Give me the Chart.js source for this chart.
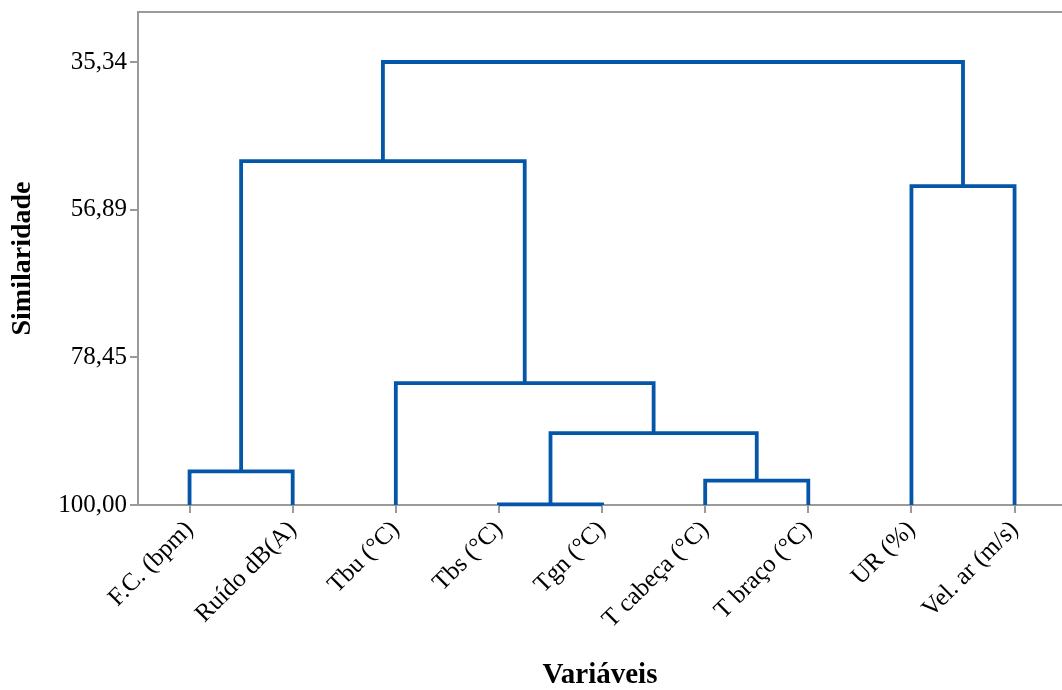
<!DOCTYPE html>
<html><head><meta charset="utf-8">
<script src="https://cdn.jsdelivr.net/npm/chart.js@4/dist/chart.umd.min.js"></script>
<style>html,body{margin:0;padding:0;background:#fff;overflow:hidden}#wrap{width:1062px;height:690px;position:relative}</style>
</head><body><div id="wrap"><canvas id="c"></canvas></div>
<script>
// Leaves (variables) in dendrogram order
const categories = ["F.C. (bpm)", "Ruído dB(A)", "Tbu (°C)", "Tbs (°C)", "Tgn (°C)", "T cabeça (°C)", "T braço (°C)", "UR (%)", "Vel. ar (m/s)"];
// Y axis tick values (similarity)
const yTickValues = [35.34, 56.89, 78.45, 100.00];
// Linkage: nodes 0..8 are leaves, each merge creates node 9, 10, ...
const mergeLeft  = [3, 0, 5, 9, 2, 10, 7, 14];
const mergeRight = [4, 1, 6, 11, 12, 13, 8, 15];
const mergeSimilarity = [99.9, 95.1, 96.45, 89.5, 82.2, 49.8, 53.45, 35.34];
const leafSimilarity = 100;

const LINE = '#0456A8';
const AXIS = '#9a9a9a';
const FONT = "'Liberation Serif', 'Times New Roman', serif";

const nodeX = categories.map((_, i) => i);
const nodeY = categories.map(() => leafSimilarity);
const datasets = [];
for (let k = 0; k < mergeLeft.length; k++) {
  const l = mergeLeft[k], r = mergeRight[k], s = mergeSimilarity[k];
  const xl = nodeX[l], xr = nodeX[r];
  datasets.push({
    data: [{x: xl, y: nodeY[l]}, {x: xl, y: s}, {x: xr, y: s}, {x: xr, y: nodeY[r]}],
    showLine: true, pointRadius: 0, pointHoverRadius: 0, borderColor: LINE, borderWidth: 3.8,
    borderJoinStyle: 'miter', borderCapStyle: 'butt', tension: 0, fill: false, clip: false
  });
  nodeX.push((xl + xr) / 2);
  nodeY.push(s);
}

const topLine = {
  id: 'topLine',
  afterDraw(chart) {
    const {ctx, chartArea} = chart;
    ctx.save();
    ctx.strokeStyle = AXIS; ctx.lineWidth = 2;
    ctx.beginPath();
    ctx.moveTo(chartArea.left - 1, chartArea.top);
    ctx.lineTo(chart.width, chartArea.top);
    ctx.stroke();
    ctx.restore();
  }
};

new Chart(document.getElementById('c'), {
  type: 'scatter',
  data: { datasets },
  options: {
    responsive: true, maintainAspectRatio: false, animation: false, devicePixelRatio: 1,
    layout: { padding: { top: 12, right: 0, left: 0, bottom: 0 } },
    plugins: { legend: { display: false }, tooltip: { enabled: false } },
    scales: {
      x: {
        type: 'linear', min: -0.5, max: 8.46,
        afterBuildTicks: (scale) => { scale.ticks = categories.map((_, i) => ({ value: i })); },
        afterFit: (scale) => { scale.height = 185; scale.paddingLeft = 0; scale.paddingRight = 0; },
        ticks: {
          callback: (v) => categories[Math.round(v)],
          autoSkip: false, maxRotation: 45, minRotation: 45,
          font: { family: FONT, size: 25 }, color: '#000', padding: 2
        },
        grid: { drawOnChartArea: false, drawTicks: true, tickLength: 8, color: AXIS, lineWidth: 2 },
        border: { color: AXIS, width: 2 },
        title: { display: true, text: 'Variáveis', font: { family: FONT, size: 29, weight: 'bold' }, color: '#000', padding: { top: 0, bottom: -3 } }
      },
      y: {
        type: 'linear', reverse: true, min: 28.04, max: 100,
        afterBuildTicks: (scale) => { scale.ticks = yTickValues.map(v => ({ value: v })); },
        afterFit: (scale) => { scale.width = 138; scale.paddingTop = 0; scale.paddingBottom = 0; },
        ticks: {
          callback: (v) => v.toFixed(2).replace('.', ','),
          font: { family: FONT, size: 25 }, color: '#000', padding: 3
        },
        grid: { drawOnChartArea: false, drawTicks: true, tickLength: 8, color: AXIS, lineWidth: 2 },
        border: { color: AXIS, width: 2 },
        title: { display: true, text: 'Similaridade', font: { family: FONT, size: 28, weight: 'bold' }, color: '#000', padding: { top: 6, bottom: 0 } }
      }
    }
  },
  plugins: [topLine]
});
</script>
</body></html>
